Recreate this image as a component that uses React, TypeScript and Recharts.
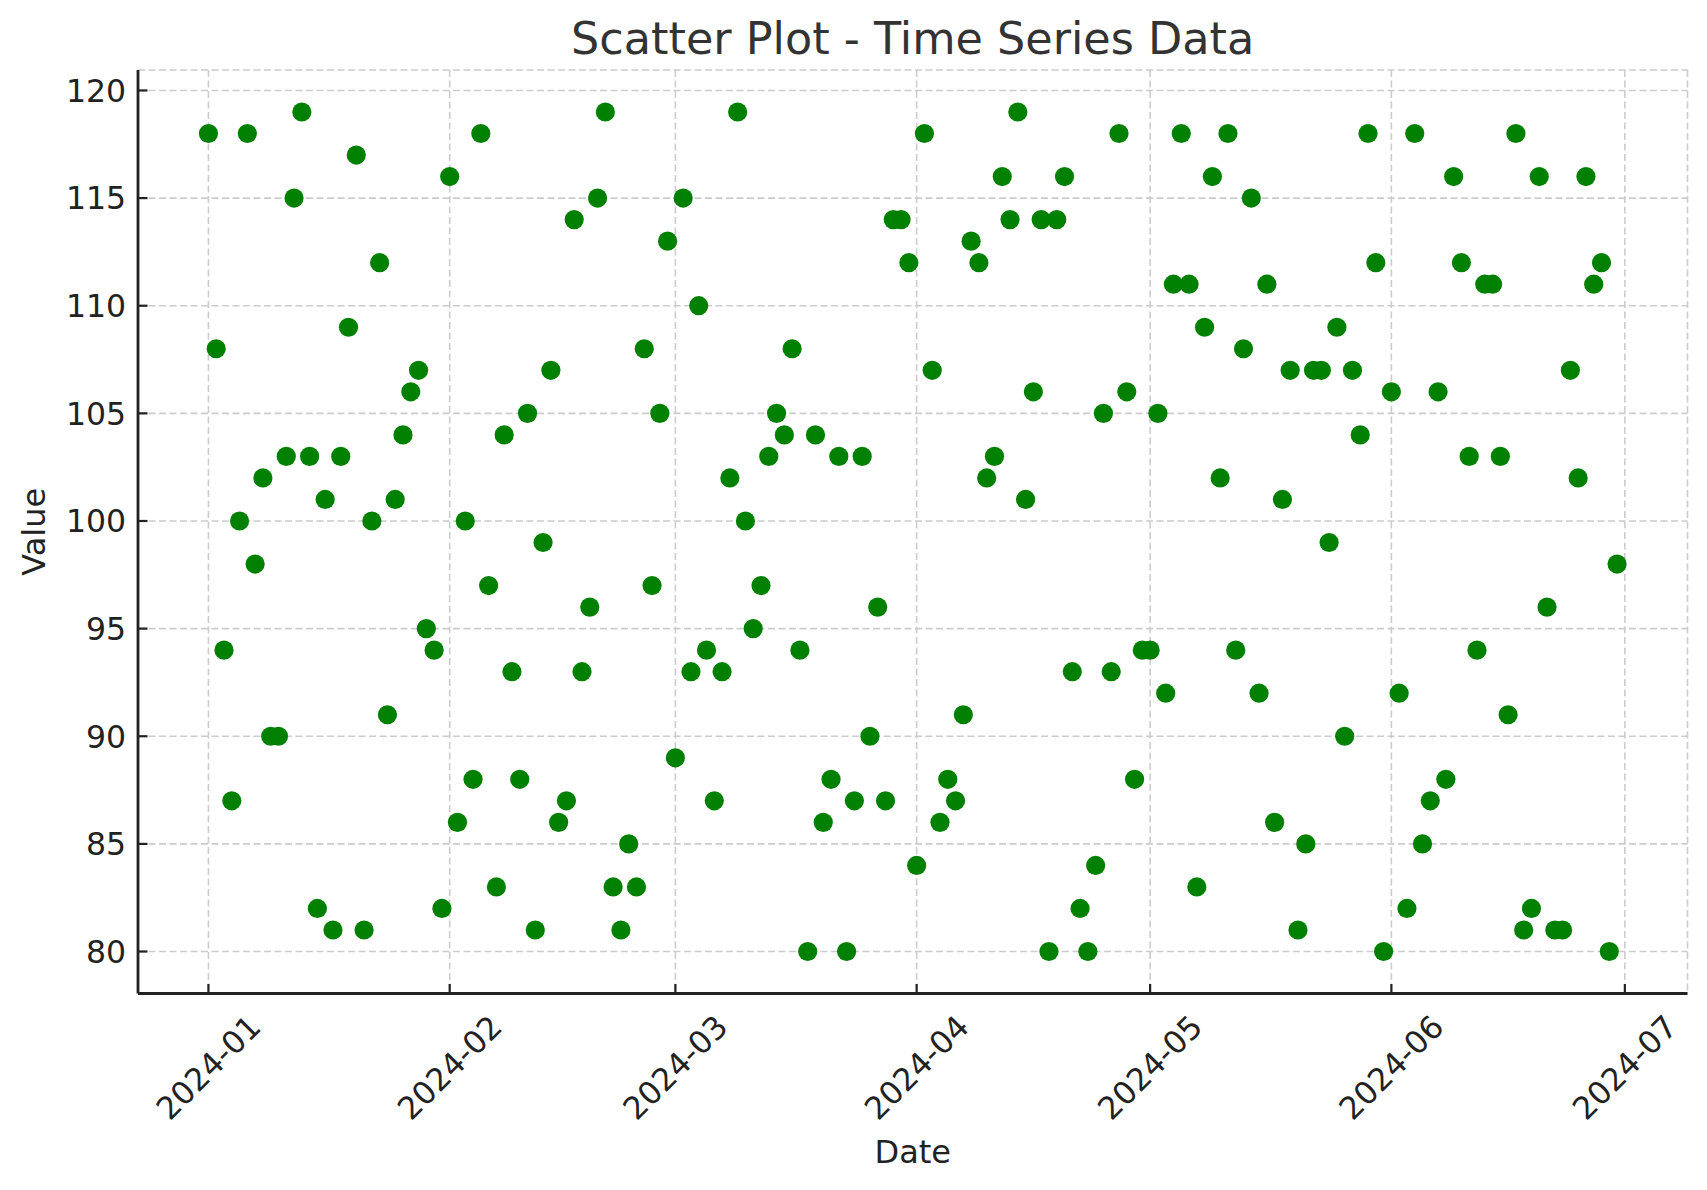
import { ScatterChart, Scatter, XAxis, YAxis, CartesianGrid, Label } from 'recharts';

// one reading per day, starting 2024-01-01
const startDate = '2024-01-01';

const janValues = [118, 108, 94, 87, 100, 118, 98, 102, 90, 90, 103, 115, 119, 103, 82, 101, 81, 103, 109, 117, 81, 100, 112, 91, 101, 104, 106, 107, 95, 94, 82];
const febValues = [116, 86, 100, 88, 118, 97, 83, 104, 93, 88, 105, 81, 99, 107, 86, 87, 114, 93, 96, 115, 119, 83, 81, 85, 83, 108, 97, 105, 113];
const marValues = [89, 115, 93, 110, 94, 87, 93, 102, 119, 100, 95, 97, 103, 105, 104, 108, 94, 80, 104, 86, 88, 103, 80, 87, 103, 90, 96, 87, 114, 114, 112];
const aprValues = [84, 118, 107, 86, 88, 87, 91, 113, 112, 102, 103, 116, 114, 119, 101, 106, 114, 80, 114, 116, 93, 82, 80, 84, 105, 93, 118, 106, 88, 94];
const mayValues = [94, 105, 92, 111, 118, 111, 83, 109, 116, 102, 118, 94, 108, 115, 92, 111, 86, 101, 107, 81, 85, 107, 107, 99, 109, 90, 107, 104, 118, 112, 80];
const junValues = [106, 92, 82, 118, 85, 87, 106, 88, 116, 112, 103, 94, 111, 111, 103, 91, 118, 81, 82, 116, 96, 81, 81, 107, 102, 116, 111, 112, 80, 98];

const monthTicks = ['2024-01', '2024-02', '2024-03', '2024-04', '2024-05', '2024-06', '2024-07'];
const valueTicks = [80, 85, 90, 95, 100, 105, 110, 115, 120];

const DAY_MS = 24 * 60 * 60 * 1000;
const dayOffset = (iso: string) => (Date.parse(iso) - Date.parse(startDate)) / DAY_MS;

const allValues = [...janValues, ...febValues, ...marValues, ...aprValues, ...mayValues, ...junValues];
const points = allValues.map((value, i) => ({ day: i, value }));
const monthTickDays = monthTicks.map((m) => dayOffset(`${m}-01`));

// matplotlib-style 5% margins around the data
const lastDay = allValues.length - 1;
const xPad = lastDay * 0.05;
const yPad = (119 - 80) * 0.05;

const FONT = '"DejaVu Sans", sans-serif';
const INK = '#222222';
const TICK_FONT = 31.5;

const XTick = (props: any) => {
  const { x, y, payload } = props;
  const idx = monthTickDays.indexOf(payload.value);
  const cy = y + 74;
  return (
    <g>
      <line x1={x} y1={y} x2={x} y2={y - 9.5} stroke={INK} strokeWidth={2.2} />
      <text
        x={x}
        y={cy}
        textAnchor="middle"
        dominantBaseline="central"
        transform={`rotate(-45 ${x} ${cy})`}
        fontSize={TICK_FONT}
        fontFamily={FONT}
        fill={INK}
      >
        {monthTicks[idx]}
      </text>
    </g>
  );
};

const YTick = (props: any) => {
  const { x, y, payload } = props;
  return (
    <g>
      <line x1={x} y1={y} x2={x + 9.5} y2={y} stroke={INK} strokeWidth={2.2} />
      <text x={x - 12} y={y + 11.4} textAnchor="end" fontSize={TICK_FONT} fontFamily={FONT} fill={INK}>
        {payload.value}
      </text>
    </g>
  );
};

const Dot = (props: any) => <circle cx={props.cx} cy={props.cy} r={9.6} fill="#008000" />;

export default function App() {
  return (
    <div style={{ position: 'absolute', left: 0, top: 0, background: '#fff' }}>
      <ScatterChart width={1707} height={1190} margin={{ top: 70, right: 19.5, bottom: 0, left: 0 }}>
        <CartesianGrid stroke="#cccccc" strokeDasharray="7 3.5" strokeWidth={1.6} />
        <XAxis
          type="number"
          dataKey="day"
          domain={[-xPad, lastDay + xPad]}
          ticks={monthTickDays}
          interval={0}
          allowDataOverflow
          height={196.5}
          tickSize={0}
          tickMargin={0}
          tickLine={false}
          axisLine={{ stroke: INK, strokeWidth: 2.8 }}
          tick={<XTick />}
        >
          <Label
            content={({ viewBox }: any) => (
              <text
                x={viewBox.x + viewBox.width / 2}
                y={1163}
                textAnchor="middle"
                fontSize={32}
                fontFamily={FONT}
                fill={INK}
              >
                Date
              </text>
            )}
          />
        </XAxis>
        <YAxis
          type="number"
          dataKey="value"
          domain={[80 - yPad, 119 + yPad]}
          ticks={valueTicks}
          interval={0}
          allowDataOverflow
          width={138}
          tickSize={0}
          tickMargin={0}
          tickLine={false}
          axisLine={{ stroke: INK, strokeWidth: 2.8 }}
          tick={<YTick />}
        >
          <Label
            content={({ viewBox }: any) => {
              const cx = 45;
              const cy = viewBox.y + viewBox.height / 2;
              return (
                <text
                  x={cx}
                  y={cy}
                  textAnchor="middle"
                  transform={`rotate(-90 ${cx} ${cy})`}
                  fontSize={32}
                  fontFamily={FONT}
                  fill={INK}
                >
                  Value
                </text>
              );
            }}
          />
        </YAxis>
        <Scatter data={points} dataKey="value" shape={<Dot />} isAnimationActive={false} />
        <text x={912.7} y={54} textAnchor="middle" fontSize={44.5} fontFamily={FONT} fill="#333333">
          Scatter Plot - Time Series Data
        </text>
      </ScatterChart>
    </div>
  );
}
